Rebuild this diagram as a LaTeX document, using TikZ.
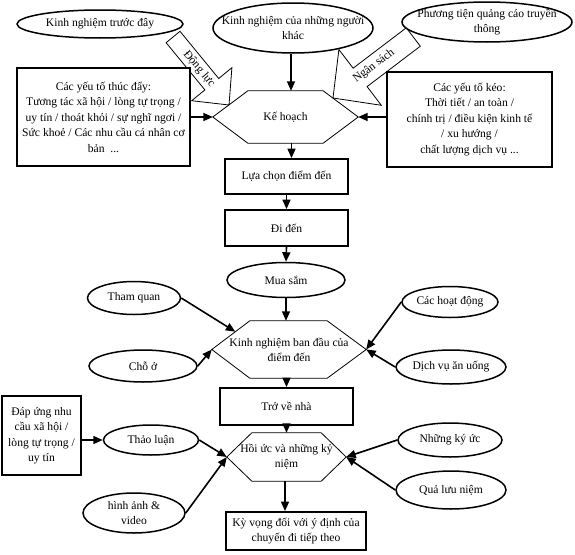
\documentclass[tikz,border=0pt]{standalone}
\usepackage{fontspec}
\setmainfont{Liberation Serif}
\usetikzlibrary{shapes.geometric,arrows.meta,calc}
\begin{document}
\begin{tikzpicture}[x=1pt,y=-1pt,
  txt/.style={font=\fontsize{11.6}{15.5}\selectfont, align=center, inner sep=0pt},
  ell/.style={ellipse, draw, line width=1.5pt, fill=white, inner sep=0pt},
  boxn/.style={rectangle, draw, line width=1.8pt, fill=white, inner sep=0pt, font=\fontsize{11.6}{15.5}\selectfont, align=center},
  hexn/.style={inner sep=0pt, font=\fontsize{11.6}{15}\selectfont, align=center},
  hexline/.style={draw, line width=0.8pt},
  conn/.style={line width=1.6pt, -{Triangle[length=9.5pt,width=8pt]}},
  blk/.style={draw, line width=0.8pt, fill=white, line join=miter}
]
\fill[white] (0,0) rectangle (575,554);
\useasboundingbox (0,0) rectangle (575,554);

% block arrows
\path[blk] (180,31.3) -- (218.7,78.5) -- (231.9,67.7) -- (229,105) -- (191.7,100.7) -- (204.9,89.9) -- (166.1,42.7) -- cycle;
\node[txt, rotate=-50.5] (dongluc) at (199,69) {Động lực};
\path[blk] (406.3,27.8) -- (353.1,68.2) -- (338.9,49.5) -- (333,98) -- (381.3,105.3) -- (367.1,86.6) -- (420.3,46.2) -- cycle;
\node[txt, rotate=37.2] (ngansach) at (374,66) {Ngân sách};

% top ellipses
\node[ell, minimum width=166pt, minimum height=28pt, label={[txt]center:Kinh nghiệm trước đây}] (e1) at (100,24) {};
\node[ell, minimum width=160pt, minimum height=50pt, label={[txt]center:Kinh nghiệm của những người\\khác}] (e2) at (293,28) {};
\node[ell, minimum width=170pt, minimum height=40pt, label={[txt]center:Phương tiện quảng cáo truyền\\thông}] (e3) at (487,22) {};

% side boxes
\node[boxn, minimum width=173pt, minimum height=98pt] (r1) at (103.5,117) {Các yếu tố thúc đẩy:\\Tương tác xã hội / lòng tự trọng /\\uy tín / thoát khỏi / sự nghĩ ngơi /\\Sức khoẻ / Các nhu cầu cá nhân cơ\\bản~ ...};
\node[boxn, minimum width=165pt, minimum height=95pt] (r2) at (469.5,119.5) {Các yếu tố kéo:\\Thời tiết / an toàn /\\chính trị / điều kiện kinh tế\\/ xu hướng /\\chất lượng dịch vụ ...};

% hexagon 1
\node[hexn, minimum width=145pt, minimum height=52pt] (h1) at (285.5,117) {Kế hoạch};
\draw[hexline] (h1.west) -- ([xshift=35pt]h1.north west) -- ([xshift=-35pt]h1.north east) -- (h1.east) -- ([xshift=-35pt]h1.south east) -- ([xshift=35pt]h1.south west) -- cycle;

% central column
\node[boxn, minimum width=123pt, minimum height=35pt] (b1) at (286.5,176.5) {Lựa chọn điểm đến};
\node[boxn, minimum width=123pt, minimum height=36pt] (b2) at (286.5,228) {Đi đến};
\node[ell, minimum width=118pt, minimum height=35pt, label={[txt]center:Mua sắm}] (e4) at (286,280) {};

\node[hexn, minimum width=154pt, minimum height=57pt] (h2) at (289,349.5) {Kinh nghiệm ban đầu của\\điểm đến};
\draw[hexline] (h2.west) -- ([xshift=38pt]h2.north west) -- ([xshift=-39pt]h2.north east) -- (h2.east) -- ([xshift=-39pt]h2.south east) -- ([xshift=38pt]h2.south west) -- cycle;

\node[ell, minimum width=93pt, minimum height=33pt, label={[txt]center:Tham quan}] (e5) at (134,298) {};
\node[ell, minimum width=108pt, minimum height=32pt, label={[txt]center:Chỗ ở}] (e6) at (143,366) {};
\node[ell, minimum width=96pt, minimum height=31pt, label={[txt]center:Các hoạt động}] (e7) at (450,302) {};
\node[ell, minimum width=110pt, minimum height=34pt, label={[txt]center:Dịch vụ ăn uống}] (e8) at (451,367) {};

\node[boxn, minimum width=133pt, minimum height=37pt] (b3) at (286.5,406.5) {Trở về nhà};

\node[hexn, minimum width=119pt, minimum height=48pt] (h3) at (286.5,457) {Hồi ức và những kỷ\\niệm};
\draw[hexline] (h3.west) -- ([xshift=25pt]h3.north west) -- ([xshift=-25pt]h3.north east) -- (h3.east) -- ([xshift=-25pt]h3.south east) -- ([xshift=25pt]h3.south west) -- cycle;

\node[boxn, minimum width=79pt, minimum height=79pt] (b4) at (41.5,435.5) {Đáp ứng nhu\\cầu xã hội /\\lòng tự trọng /\\uy tín};
\node[ell, minimum width=95pt, minimum height=30pt, label={[txt]center:Thảo luận}] (e9) at (151,440) {};
\node[ell, minimum width=102pt, minimum height=40pt, label={[txt]center:hình ảnh \&\\video}] (e10) at (134,513) {};
\node[ell, minimum width=104pt, minimum height=34pt, label={[txt]center:Những ký ức}] (e11) at (450,440) {};
\node[ell, minimum width=110pt, minimum height=38pt, label={[txt]center:Quả lưu niệm}] (e12) at (451,490) {};

\node[boxn, minimum width=140pt, minimum height=38pt] (b5) at (296,531) {Kỳ vọng đối với ý định của\\chuyến đi tiếp theo};

% connectors
\draw[conn] ([xshift=-2pt]e2.south) -- ([xshift=-2pt]e2.south |- h1.north);
\draw[conn] (r1.east) -- (h1.west);
\draw[conn] (r2.west |- h1.east) -- (h1.east);
\draw[conn] ([xshift=6pt]h1.south) -- ([xshift=6pt]h1.south |- b1.north);
\draw[conn] (b1.south) -- (b2.north);
\draw[conn] (b2.south) -- (e4.north);
\draw[conn] (e4.south) -- (e4.south |- h2.north);
\coordinate (h2tq) at ($(h2.west)!0.62!([xshift=38pt]h2.north west)$);
\draw[conn] (e5.east) -- (h2tq);
\draw[conn] (e6.east) -- (h2.west);
\draw[conn] (e7.west) -- (h2.east);
\draw[conn] (e8.west) -- (h2.east);
\draw[conn] (b3.north |- h2.south) -- (b3.north);
\draw[conn] (b3.south) -- (b3.south |- h3.north);
\draw[conn] ([xshift=-1.5pt]h3.south) -- ([xshift=-1.5pt]h3.south |- b5.north);
\draw[conn] (b4.east |- e9.west) -- (e9.west);
\draw[conn] (e9.east) -- (h3.west);
\draw[conn] (e10.east) -- (h3.west);
\draw[conn] (e11.west) -- (h3.east);
\draw[conn] (e12.west) -- (h3.east);
\end{tikzpicture}
\end{document}
